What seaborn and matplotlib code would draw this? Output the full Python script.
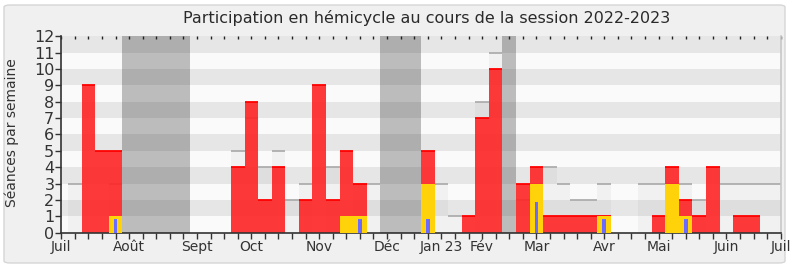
import matplotlib
matplotlib.use("Agg")
import matplotlib.pyplot as plt
from matplotlib.patches import FancyBboxPatch
import numpy as np
import pandas as pd
import seaborn as sns

# ---- data (one value per week, 53 weeks from July 2022) ----
semaines = list(range(53))
presences = [0, 9, 5, 5, 0, 0, 0, 0, 0, 0, 0, 0, 4, 8, 2, 4, 0, 2, 9, 2, 5, 3, 0,
             0, 0, 0, 5, 0, 0, 1, 7, 10, 0, 3, 4, 1, 1, 1, 1, 1, 0, 0, 0, 1, 4, 2,
             1, 4, 0, 1, 1, 0, 0]
participations = [0, 0, 0, 1, 0, 0, 0, 0, 0, 0, 0, 0, 0, 0, 0, 0, 0, 0, 0, 0, 1, 1, 0,
                  0, 0, 0, 3, 0, 0, 0, 0, 0, 0, 0, 3, 0, 0, 0, 0, 1, 0, 0, 0, 0, 3, 1,
                  0, 0, 0, 0, 0, 0, 0]
questions = [0, 0, 0, 0.85, 0, 0, 0, 0, 0, 0, 0, 0, 0, 0, 0, 0, 0, 0, 0, 0, 0, 0.85, 0,
             0, 0, 0, 0.85, 0, 0, 0, 0, 0, 0, 0, 1.9, 0, 0, 0, 0, 0.85, 0, 0, 0, 0, 0, 0.85,
             0, 0, 0, 0, 0, 0, 0]
mediane = [3, 0, 0, 3, 0, 0, 0, 0, 0, 0, 0, 0, 5, 7, 4, 5, 2, 3, 0, 4, 0, 3, 3,
           0, 0, 0, 0, 3, 1, 0, 8, 11, 0, 2, 3, 4, 3, 2, 2, 3, 0, 0, 3, 3, 3, 3,
           2, 0, 3, 3, 3, 3, 3]
vacances = [4, 5, 6, 7, 8, 23, 24, 25, 32]

mois_pos = [0, 5, 10, 14, 19, 24, 28, 31, 35, 40, 44, 49, 53]
mois_lab = ['Juil', 'Août', 'Sept', 'Oct', 'Nov', 'Déc', 'Jan 23', 'Fév',
            'Mar', 'Avr', 'Mai', 'Juin', 'Juil']
y_max = 12

df = pd.DataFrame({
    'pos': np.array(semaines) + 1.0,
    'presences': presences,
    'participations': participations,
    'questions': questions,
    'mediane': mediane,
})
df['vacances'] = [y_max if s in vacances else 0 for s in semaines]

sns.set_theme(style="white")
plt.rcParams['font.family'] = ['DejaVu Sans']

W, H = 790, 267
fig = plt.figure(figsize=(W / 100, H / 100), dpi=100, facecolor='white')
bg = FancyBboxPatch((4 / W, 4 / H), 781 / W, 258 / H,
                    boxstyle="round,pad=0,rounding_size=0.008",
                    transform=fig.transFigure, facecolor='#f0f0f0',
                    edgecolor='#d6d6d6', linewidth=1.0, zorder=-10)
fig.patches.append(bg)

ax = fig.add_axes([61.3 / W, (H - 232.7) / H, (780.7 - 61.3) / W, (232.7 - 36.2) / H])
ax.set_facecolor('#fafafa')

# horizontal stripes
for i in range(y_max):
    ax.axhspan(i, i + 1, color='#fafafa' if i % 2 == 0 else '#e6e6e6',
               lw=0, zorder=0)

common = dict(x='pos', native_scale=True, saturation=1, errorbar=None,
              linewidth=0, ax=ax)

# median of deputies
sns.barplot(data=df, y='mediane', width=1, color='#808080', alpha=0.07, zorder=1, **common)
m = df[df['mediane'] > 0]
ax.hlines(m['mediane'], m['pos'] - 0.5, m['pos'] + 0.5, colors='#a8a8a8', lw=1.2, zorder=1.5)

# presences
sns.barplot(data=df, y='presences', width=1, color='#ff2424', alpha=0.9, zorder=2, **common)
p = df[df['presences'] > 0]
ax.hlines(p['presences'], p['pos'] - 0.5, p['pos'] + 0.5, colors='#ff0000', lw=1.3, zorder=2.5)

# participations
sns.barplot(data=df, y='participations', width=1, color='#ffd20a', zorder=3, **common)
# questions
sns.barplot(data=df, y='questions', width=0.27, color='#6b6bff', zorder=4, **common)
# vacances
sns.barplot(data=df, y='vacances', width=1, color='#252525', alpha=0.29, zorder=5, **common)

ax.set_xlim(0, 53)
ax.set_ylim(0, y_max)
ax.set_xticks(mois_pos)
ax.set_xticklabels(mois_lab)
ax.set_xticks(range(54), minor=True)
ax.set_yticks(range(y_max + 1))
ax.set_yticklabels([str(i) for i in range(y_max + 1)])
ax.tick_params(axis='x', which='both', direction='out', length=4, width=1,
               color='#333333', labelsize=10, labelcolor='#333333', pad=1, bottom=True)
ax.tick_params(axis='y', which='major', direction='out', length=4, width=1,
               color='#333333', labelsize=11.5, labelcolor='#333333', pad=1, left=True)
ax.set_xlabel('')
ax.set_ylabel('')

secx = ax.secondary_xaxis('top')
secx.set_xticks(range(54))
secx.tick_params(direction='in', length=2.5, width=1, color='#222222', labeltop=False)
secx.spines['top'].set_visible(False)

for s in ['left', 'bottom']:
    ax.spines[s].set_color('#333333')
    ax.spines[s].set_linewidth(1.2)
ax.spines['top'].set_visible(False)
ax.spines['right'].set_color('#c8c8c8')
ax.spines['right'].set_linewidth(1.2)
ax.grid(False)

fig.text(427 / W, 1 - 18 / H, 'Participation en hémicycle au cours de la session 2022-2023',
         ha='center', va='center', fontsize=11.5, color='#2a2a2a')
fig.text(12 / W, 1 - 133 / H, 'Séances par semaine', rotation=90,
         ha='center', va='center', fontsize=10, color='#333333')

fig.savefig('out.png', dpi=100, facecolor=fig.get_facecolor())
